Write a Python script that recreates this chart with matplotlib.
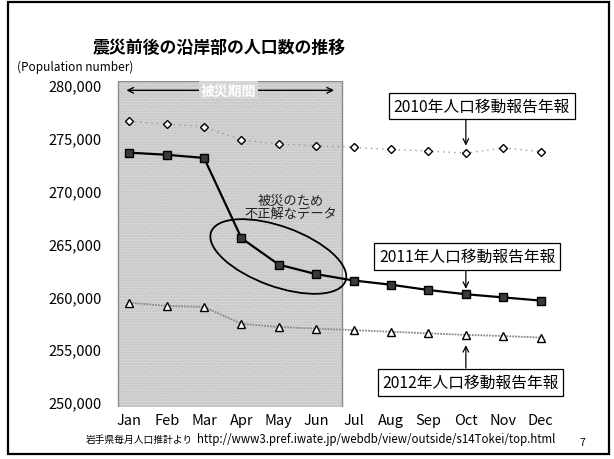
import matplotlib
matplotlib.use("Agg")
import matplotlib.pyplot as plt
from matplotlib.patches import Ellipse, Rectangle

plt.rcParams['font.family'] = ['Noto Sans CJK JP', 'DejaVu Sans']

months = ["Jan", "Feb", "Mar", "Apr", "May", "Jun",
          "Jul", "Aug", "Sep", "Oct", "Nov", "Dec"]
ytick_values = [250000, 255000, 260000, 265000, 270000, 275000, 280000]
ytick_labels = ["250,000", "255,000", "260,000", "265,000",
                "270,000", "275,000", "280,000"]

pop_2010 = [276550, 276300, 276050, 274800, 274400, 274250,
            274100, 273900, 273750, 273550, 274050, 273700]
pop_2011 = [273600, 273400, 273100, 265500, 263000, 262100,
            261500, 261100, 260600, 260200, 259900, 259600]
pop_2012 = [259400, 259100, 259000, 257400, 257100, 256950,
            256800, 256650, 256500, 256350, 256250, 256100]

W, H = 614, 460


def fx(px):
    return px / W


def fy(py):
    return 1 - py / H


fig = plt.figure(figsize=(W / 100, H / 100), dpi=100)
ax = fig.add_axes([fx(114.3), fy(408.3), 448.8 / W, 326.5 / H])
ax.set_xlim(-0.4, 11.6)
ax.set_ylim(249500, 280400)
for s in ax.spines.values():
    s.set_visible(False)

x = list(range(12))

# shaded block for the months affected by the disaster
ax.axvspan(-0.3, 5.7, facecolor="#d6d6d6", edgecolor="none", zorder=0)
ax.axvspan(-0.3, 5.7, facecolor="none", edgecolor="#c0c0c0", hatch="......",
           linewidth=0, zorder=0)
ax.axvspan(-0.3, 5.7, facecolor="none", edgecolor="#8a8a8a", linewidth=1.0,
           zorder=0)
ax.annotate("", xy=(-0.15, 279500), xytext=(5.55, 279500),
            arrowprops=dict(arrowstyle="<->", color="black", lw=1.0))
ax.text(2.65, 279500, "被災期間", ha="center", va="center", fontsize=10,
        color="white", fontweight="bold",
        bbox=dict(boxstyle="square,pad=0.15", fc="#d6d6d6", ec="none"))

ax.plot(x, pop_2010, linestyle=(0, (1, 3)), color="#9a9a9a", lw=1.0,
        marker="D", markersize=4.5, markerfacecolor="white",
        markeredgecolor="black", markeredgewidth=1.0, zorder=3)
ax.plot(x, pop_2011, "-", color="black", lw=1.6,
        marker="s", markersize=5.5, markerfacecolor="#3a3a3a",
        markeredgecolor="black", zorder=4)
ax.plot(x, pop_2012, linestyle=(0, (1, 0.6)), color="#8a8a8a", lw=1.3,
        marker="^", markersize=6, markerfacecolor="white",
        markeredgecolor="black", markeredgewidth=1.0, zorder=3)

ax.set_xticks(x)
ax.set_xticklabels(months, fontsize=10.5)
ax.set_yticks(ytick_values)
ax.set_yticklabels(ytick_labels, fontsize=10.5)
ax.tick_params(axis="both", length=0)
ax.tick_params(axis="y", pad=9)
ax.tick_params(axis="x", pad=4)

# callout boxes pointing at October
box = dict(boxstyle="square,pad=0.3", fc="white", ec="black", lw=0.9)
ax.annotate("", xy=(9, pop_2010[9] + 450), xytext=(9, 276950),
            arrowprops=dict(arrowstyle="->", color="black", lw=0.9))
ax.annotate("", xy=(9, pop_2011[9] + 250), xytext=(9, 262850),
            arrowprops=dict(arrowstyle="->", color="black", lw=0.9))
ax.annotate("", xy=(9, pop_2012[9] - 700), xytext=(9, 252950),
            arrowprops=dict(arrowstyle="->", color="black", lw=0.9))
fig.text(fx(482), fy(107), "2010年人口移動報告年報", ha="center", va="center",
         fontsize=11.3, bbox=box)
fig.text(fx(467), fy(257.5), "2011年人口移動報告年報", ha="center", va="center",
         fontsize=11.3, bbox=box)
fig.text(fx(470.5), fy(383.5), "2012年人口移動報告年報", ha="center", va="center",
         fontsize=11.3, bbox=box)

# ellipse around the unreliable values
ell = Ellipse((2.783, (H - 257.5) / 100), 1.43, 0.60, angle=-20,
              transform=fig.dpi_scale_trans, fill=False, edgecolor="black", lw=1.3)
fig.add_artist(ell)
fig.text(fx(291), fy(208), "被災のため\n不正解なデータ", ha="center", va="center",
         fontsize=9.5, linespacing=1.0, color="#222222")

fig.text(fx(219), fy(48), "震災前後の沿岸部の人口数の推移", ha="center", va="center",
         fontsize=12.2, fontweight="bold")
fig.text(fx(17), fy(67), "(Population number)", ha="left", va="center", fontsize=8.5)
fig.text(fx(86), fy(440), "岩手県毎月人口推計より", ha="left", va="center", fontsize=7)
fig.text(fx(197), fy(440),
         "http://www3.pref.iwate.jp/webdb/view/outside/s14Tokei/top.html",
         ha="left", va="center", fontsize=8.3)
fig.text(fx(582), fy(443), "7", ha="center", va="center", fontsize=7.5)

# slide frame
fig.add_artist(Rectangle((fx(8), fy(455)), fx(609) - fx(8), fy(3) - fy(455),
                         transform=fig.transFigure, fill=False,
                         edgecolor="black", lw=1.6))

fig.savefig("out.png", dpi=100)
